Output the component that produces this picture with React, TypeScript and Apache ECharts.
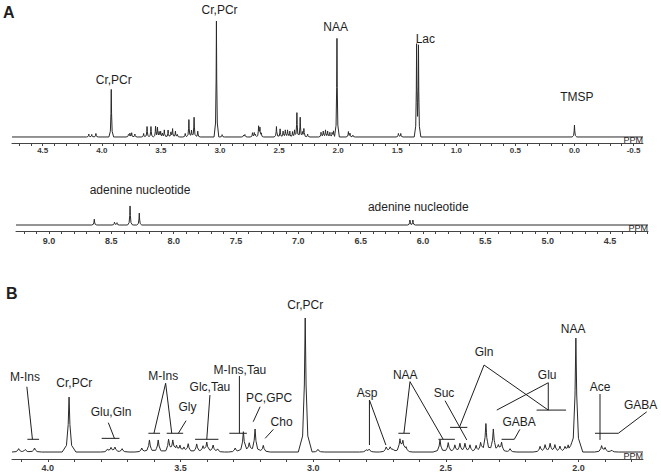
import React, { useEffect, useRef } from 'react';
import * as echarts from 'echarts';

// 1H NMR peak list of the brain extract: [ppm, relative intensity (Cr 3.03 = 100)]
const brainPeaks: [number, number][] = [
  [4.11, 2.5], [4.085, 2.2], [4.05, 3],
  [3.92, 41],
  [3.775, 2], [3.762, 3], [3.747, 3.5], [3.72, 2.5],
  [3.646, 3], [3.617, 9], [3.584, 9], [3.545, 9], [3.529, 8], [3.515, 4], [3.502, 4.5],
  [3.487, 3], [3.471, 6], [3.439, 6], [3.415, 4], [3.401, 7], [3.377, 5], [3.36, 2],
  [3.294, 3], [3.263, 15], [3.241, 6], [3.219, 17], [3.188, 5],
  [3.03, 100], [2.982, 2],
  [2.8, 1.5], [2.789, 2], [2.725, 3.5], [2.71, 3.5], [2.7, 2],
  [2.673, 9], [2.662, 7.5], [2.65, 3],
  [2.522, 9], [2.491, 7], [2.466, 5], [2.447, 6], [2.428, 6], [2.409, 5], [2.386, 4.5], [2.369, 6],
  [2.349, 21], [2.321, 17], [2.302, 4], [2.29, 7], [2.258, 2.5],
  [2.145, 4], [2.126, 5], [2.107, 6], [2.089, 5], [2.07, 4], [2.051, 3.5], [2.039, 5],
  [2.01, 85],
  [1.913, 4.5], [1.9, 3], [1.875, 1.5],
  [1.49, 3], [1.47, 3],
  [1.336, 77.5], [1.32, 76.5],
  [0.0, 10.3],
];

// aromatic region (adenine nucleotides)
const adeninePeaks: [number, number][] = [
  [8.637, 5], [8.475, 2.5], [8.455, 2], [8.35, 16.4], [8.276, 10.3],
  [6.105, 4.3], [6.081, 4.3],
];

// tick labels
const topLabels = [4.5, 4.0, 3.5, 3.0, 2.5, 2.0, 1.5, 1.0, 0.5, 0.0, -0.5];
const lowLabels = [9.0, 8.5, 8.0, 7.5, 7.0, 6.5, 6.0, 5.5, 5.0, 4.5];
const zoomLabels = [4.0, 3.5, 3.0, 2.5, 2.0];

// annotations: [text, ppm, intensity]
const topNotes: [string, number, number][] = [
  ['Cr,PCr', 3.899, 49.1], ['Cr,PCr', 3.003, 109.3], ['NAA', 2.021, 94.4],
  ['Lac', 1.262, 84.9], ['TMSP', -0.02, 34.7],
];
const lowNotes: [string, number, number][] = [
  ['adenine nucleotide', 8.27, 30.1], ['adenine nucleotide', 6.038, 15.7],
];
const zoomNotes: [string, number, number][] = [
  ['M-Ins', 4.086, 56], ['Cr,PCr', 3.9, 51.5], ['Glu,Gln', 3.762, 30],
  ['M-Ins', 3.565, 57], ['Gly', 3.474, 33.8], ['Glc,Tau', 3.389, 48.7],
  ['M-Ins,Tau', 3.276, 61.2], ['PC,GPC', 3.166, 40.5], ['Cho', 3.119, 22.6],
  ['Cr,PCr', 3.03, 109.7], ['Asp', 2.797, 43.8], ['NAA', 2.653, 57.7],
  ['Suc', 2.507, 43.8], ['Gln', 2.356, 74.4], ['Glu', 2.118, 57.2],
  ['GABA', 2.224, 22.4], ['NAA', 2.02, 92], ['Ace', 1.919, 48.5], ['GABA', 1.766, 35.3],
];
// leader lines in data space (ppm, intensity)
const zoomLeaders: [number, number][][] = [
  [[4.079, 48.7], [4.058, 9.5]], [[4.077, 9.5], [4.033, 9.5]],
  [[3.772, 21.9], [3.749, 10.2]], [[3.797, 10.2], [3.73, 10.2]],
  [[3.6, 14], [3.556, 51.3], [3.533, 14]], [[3.621, 14], [3.577, 14]], [[3.552, 14], [3.49, 14]],
  [[3.479, 23.4], [3.508, 14]],
  [[3.389, 42.5], [3.401, 9.5]], [[3.445, 9.5], [3.357, 9.5]],
  [[3.278, 56.7], [3.278, 14]], [[3.316, 14], [3.25, 14]],
  [[3.2, 33.8], [3.226, 22.6]],
  [[3.15, 16.9], [3.181, 10.2]],
  [[2.788, 5.2], [2.788, 38.8], [2.726, 5.2]],
  [[2.658, 14], [2.635, 52.5], [2.51, 9.5]], [[2.679, 14], [2.635, 14]], [[2.528, 9.5], [2.466, 9.5]],
  [[2.503, 38.3], [2.421, 9]],
  [[2.449, 18.4], [2.356, 64.9], [2.114, 31.3]], [[2.484, 18.4], [2.419, 18.4]], [[2.158, 31.3], [2.047, 31.3]],
  [[2.308, 31.3], [2.114, 51.7], [2.114, 31.3]],
  [[2.221, 16.9], [2.242, 9.5], [2.29, 9.5]],
  [[1.919, 43.3], [1.919, 9]],
  [[1.743, 30], [1.85, 14], [1.938, 14]],
];

// line-shape profile (offset in half-widths, fraction of height)
const PROFILE: [number, number][] = [[0, 1], [0.5, 0.5], [1.5, 0.12], [4, 0]];

function shape(d: number): number {
  const a = Math.abs(d);
  for (let i = 0; i < PROFILE.length - 1; i++) {
    const [x0, y0] = PROFILE[i];
    const [x1, y1] = PROFILE[i + 1];
    if (a >= x0 && a <= x1) return y0 + ((y1 - y0) * (a - x0)) / (x1 - x0);
  }
  return 0;
}

function buildTrace(peaks: [number, number][], lo: number, hi: number, hw: number): [number, number][] {
  const xs = new Set<number>([lo, hi]);
  for (const [p] of peaks) {
    for (const [k] of PROFILE) {
      for (const s of [-1, 1]) {
        const x = +(p + s * k * hw).toFixed(5);
        if (x > lo && x < hi) xs.add(x);
      }
    }
  }
  return Array.from(xs)
    .sort((a, b) => a - b)
    .map((x) => {
      let y = 0;
      for (const [p, h] of peaks) y += h * shape((x - p) / hw);
      return [x, y] as [number, number];
    });
}

function ticks(from: number, to: number): number[] {
  const out: number[] = [];
  for (let i = Math.round(from * 10); i <= Math.round(to * 10); i++) out.push(i / 10);
  return out;
}

const FONT = '"Liberation Sans", Arial, Helvetica, sans-serif';
const INK = '#1e1e1e';

const ranges = [
  { min: -0.58, max: 4.76 },
  { min: 4.195, max: 9.265 },
  { min: 1.757, max: 4.135 },
];

function xAxis(i: number, tickVals: number[], labelVals: number[], fontSize: number, margin: number) {
  return {
    type: 'value',
    gridIndex: i,
    min: ranges[i].min,
    max: ranges[i].max,
    inverse: true,
    axisLine: { show: true, onZero: false, lineStyle: { color: '#444', width: 1 } },
    axisTick: { show: true, customValues: tickVals, length: 3, lineStyle: { color: '#444', width: 1 } },
    axisLabel: {
      show: true,
      customValues: labelVals,
      formatter: (v: number) => v.toFixed(1),
      fontSize,
      fontFamily: FONT,
      fontWeight: 'bold',
      color: '#3a3a3a',
      margin,
    },
    splitLine: { show: false },
  };
}

export default function App() {
  const ref = useRef<HTMLDivElement>(null);

  useEffect(() => {
    document.body.style.margin = '0';
    const chart = echarts.init(ref.current!, null, { renderer: 'svg' });
    const lineStyle = { color: '#2a2a2a', width: 1 };
    const option: any = {
      animation: false,
      backgroundColor: '#fff',
      grid: [
        { left: 12, top: 21, width: 631, height: 122, containLabel: false, outerBoundsMode: 'none' },
        { left: 16, top: 201, width: 632, height: 30, containLabel: false, outerBoundsMode: 'none' },
        { left: 12, top: 318, width: 631, height: 141, containLabel: false, outerBoundsMode: 'none' },
      ],
      xAxis: [
        xAxis(0, ticks(-0.5, 4.7), topLabels, 8, 3),
        xAxis(1, ticks(4.2, 9.2), lowLabels, 9, 5),
        xAxis(2, ticks(1.8, 4.1), zoomLabels, 9, 4),
      ],
      yAxis: [
        { type: 'value', gridIndex: 0, min: -5.2, max: 100, show: false },
        { type: 'value', gridIndex: 1, min: -5.16, max: 20.66, show: false },
        { type: 'value', gridIndex: 2, min: -5.2, max: 100, show: false },
      ],
      series: [
        {
          type: 'line', xAxisIndex: 0, yAxisIndex: 0, showSymbol: false, symbol: 'none',
          data: buildTrace(brainPeaks, ranges[0].min, ranges[0].max, 0.005), lineStyle, silent: true,
        },
        {
          type: 'line', xAxisIndex: 1, yAxisIndex: 1, showSymbol: false, symbol: 'none',
          data: buildTrace(adeninePeaks, ranges[1].min, ranges[1].max, 0.005), lineStyle, silent: true,
        },
        {
          type: 'line', xAxisIndex: 2, yAxisIndex: 2, showSymbol: false, symbol: 'none',
          data: buildTrace(brainPeaks, ranges[2].min, ranges[2].max, 0.0065), lineStyle, silent: true,
        },
      ],
    };
    chart.setOption(option);

    const px = (g: number, p: [number, number]) =>
      chart.convertToPixel({ gridIndex: g } as any, p) as unknown as number[];

    const text = (t: string, x: number, y: number, font: string, align = 'center', vAlign = 'middle') => ({
      type: 'text',
      x,
      y,
      silent: true,
      style: {
        text: t,
        font,
        fill: INK,
        textAlign: align,
        textVerticalAlign: vAlign,
        align,
        verticalAlign: vAlign,
      },
    });

    const elements: any[] = [];
    const noteFont = `12px ${FONT}`;
    topNotes.forEach(([t, x, y]) => {
      const [a, b] = px(0, [x, y]);
      elements.push(text(t, a, b, noteFont));
    });
    lowNotes.forEach(([t, x, y]) => {
      const [a, b] = px(1, [x, y]);
      elements.push(text(t, a, b, noteFont));
    });
    zoomNotes.forEach(([t, x, y]) => {
      const [a, b] = px(2, [x, y]);
      elements.push(text(t, a, b, noteFont));
    });
    zoomLeaders.forEach((pts) => {
      elements.push({
        type: 'polyline',
        silent: true,
        shape: { points: pts.map((p) => px(2, p)) },
        style: { stroke: INK, lineWidth: 1, fill: 'none' },
      });
    });

    // "PPM" axis names at the right end of each axis
    [0, 1, 2].forEach((g) => {
      const [a, b] = px(g, [ranges[g].min, g === 1 ? -5.16 : -5.2]);
      elements.push(text('PPM', a, b + 1, `9px ${FONT}`, 'right', 'bottom'));
    });

    // panel letters
    elements.push(text('A', 3, 12, `bold 16px ${FONT}`, 'left', 'middle'));
    elements.push(text('B', 6, 293, `bold 16px ${FONT}`, 'left', 'middle'));

    chart.setOption({ graphic: { elements } });

    return () => chart.dispose();
  }, []);

  return <div ref={ref} style={{ width: 661, height: 474 }} />;
}
